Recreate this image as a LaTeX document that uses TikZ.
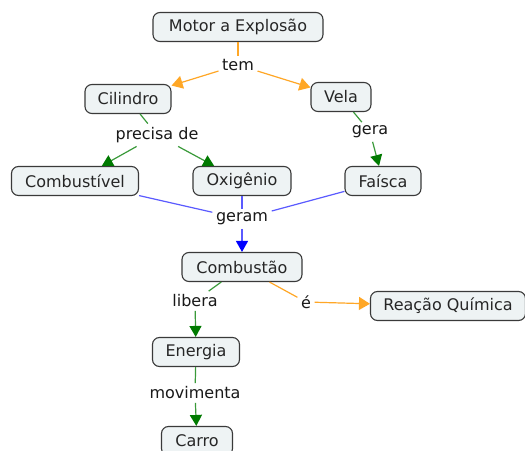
\documentclass[tikz,border=0pt]{standalone}
\usepackage{fontspec}
\setmainfont{DejaVu Sans}
\usetikzlibrary{arrows.meta}
\definecolor{nfill}{HTML}{EEF3F4}
\definecolor{nborder}{HTML}{3A3A3A}
\definecolor{orng}{HTML}{FFA726}
\definecolor{grn}{HTML}{3A9A3A}
\definecolor{grnh}{HTML}{007A00}
\definecolor{blu}{HTML}{5A5AFF}
\definecolor{bluh}{HTML}{0000FF}
\begin{document}
\begin{tikzpicture}[x=1pt,y=-1pt,
  concept/.style={draw=nborder, fill=nfill, rounded corners=7pt, line width=1.1pt,
    minimum height=29pt, inner xsep=6pt, font=\fontsize{16}{18}\selectfont, text=black!85},
  lbl/.style={inner sep=3.5pt, font=\fontsize{16}{18}\selectfont, text=black!90},
  oline/.style={draw=orng, line width=1.2pt},
  gline/.style={draw=grn, line width=1.2pt},
  bline/.style={draw=blu, line width=1.2pt},
  oarr/.style={oline, -{Triangle[length=11pt,width=13pt,fill=orng]}},
  garr/.style={gline, -{Triangle[length=11pt,width=12pt,color=grnh]}},
  barr/.style={bline, -{Triangle[length=11pt,width=12pt,color=bluh]}}
]
\useasboundingbox[fill=white] (0,0) rectangle (525,450);

\node[concept, minimum width=170pt] (motor) at (238,27) {Motor a Explosão};
\node[concept, minimum width=86pt] (cil) at (128,99) {Cilindro};
\node[concept, minimum width=60pt] (vela) at (341,97) {Vela};
\node[concept, minimum width=127pt] (comb) at (75,181) {Combustível};
\node[concept, minimum width=98pt] (oxi) at (242,181) {Oxigênio};
\node[concept, minimum width=76pt] (fai) at (383,181) {Faísca};
\node[concept, minimum width=120pt] (cbt) at (242,267) {Combustão};
\node[concept, minimum width=155pt] (rea) at (448,306) {Reação Química};
\node[concept, minimum width=87pt] (ene) at (196,352) {Energia};
\node[concept, minimum width=71pt] (car) at (197,441) {Carro};

\node[lbl] (tem) at (238,65) {tem};
\node[lbl] (prec) at (157,135) {precisa de};
\node[lbl] (gera) at (370,132) {gera};
\node[lbl] (geram) at (242,219) {geram};
\node[lbl] (lib) at (195,301) {libera};
\node[lbl] (e) at (306,302) {é};
\node[lbl] (mov) at (195,393) {movimenta};

\draw[oline] (motor) -- (tem);
\draw[oarr] (tem) -- (cil);
\draw[oarr] (tem) -- (vela);

\draw[gline] (cil) -- (prec);
\draw[garr] (prec) -- (comb);
\draw[garr] (prec) -- (oxi);

\draw[gline] (vela) -- (gera);
\draw[garr] (gera) -- (fai);

\draw[bline] (comb) -- (geram);
\draw[bline] (oxi) -- (geram);
\draw[bline] (fai) -- (geram);
\draw[barr] (geram) -- (cbt);

\draw[gline] (cbt) -- (lib);
\draw[garr] (lib) -- (ene);
\draw[oline] (cbt) -- (e);
\draw[oarr] (e) -- (rea);

\draw[gline] (ene) -- (mov);
\draw[garr] (mov) -- (car);
\end{tikzpicture}
\end{document}
